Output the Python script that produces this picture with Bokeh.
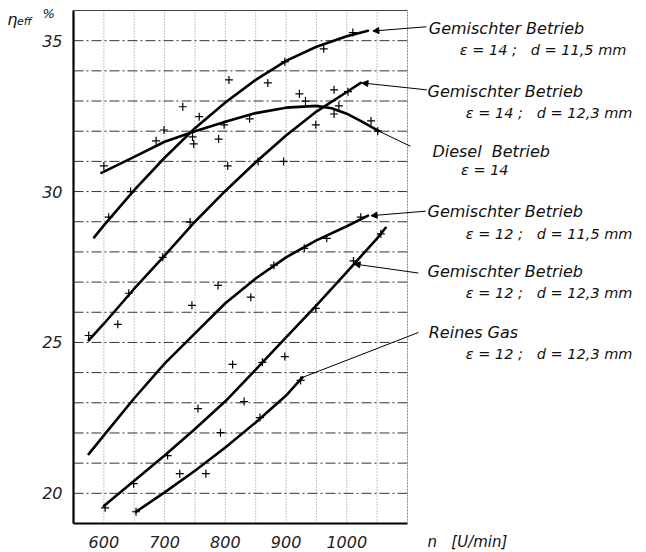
from bokeh.plotting import figure
from bokeh.models import Range1d, Arrow, NormalHead
from bokeh.core.properties import value
from bokeh.embed import file_html
from bokeh.resources import INLINE

# ---- data ----
# Gemischter Betrieb, eps=14, d=11,5 mm
g14_115_n = [584, 600, 650, 700, 750, 800, 850, 900, 950, 1000, 1035]
g14_115_eta = [28.48, 28.88, 30.05, 31.12, 32.1, 32.95, 33.7, 34.33, 34.8, 35.15, 35.33]
# Gemischter Betrieb, eps=14, d=12,3 mm
g14_123_n = [575, 600, 650, 700, 750, 800, 850, 900, 950, 1000, 1023]
g14_123_eta = [25.07, 25.62, 26.78, 27.88, 29.0, 30.02, 30.97, 31.86, 32.65, 33.3, 33.6]
# Diesel Betrieb, eps=14
diesel_n = [596, 650, 700, 750, 800, 850, 900, 950, 975, 1000, 1025, 1053]
diesel_eta = [30.62, 31.15, 31.65, 32.0, 32.31, 32.6, 32.78, 32.84, 32.76, 32.58, 32.32, 32.0]
# Gemischter Betrieb, eps=12, d=11,5 mm
g12_115_n = [575, 600, 650, 700, 750, 800, 850, 900, 950, 1000, 1035]
g12_115_eta = [21.3, 21.92, 23.15, 24.3, 25.3, 26.3, 27.12, 27.82, 28.38, 28.85, 29.2]
# Gemischter Betrieb, eps=12, d=12,3 mm
g12_123_n = [600, 650, 700, 750, 800, 850, 900, 950, 1000, 1050, 1064]
g12_123_eta = [19.58, 20.42, 21.25, 22.13, 23.05, 24.1, 25.17, 26.23, 27.33, 28.45, 28.8]
# Reines Gas, eps=12, d=12,3 mm
gas_n = [653, 700, 750, 800, 850, 900, 927]
gas_eta = [19.39, 20.03, 20.75, 21.52, 22.35, 23.24, 23.84]

# measured points (+)
pts_n = [600, 608, 644, 686, 699, 730, 746, 748, 757, 742, 697, 789, 798, 804, 806,
         840, 854, 870, 896, 898, 922, 932, 949, 962, 967, 930, 880, 1010, 979, 1002,
         987, 979, 1040, 1051, 1023, 1011, 1056, 575, 641, 623, 745, 788, 842, 812,
         861, 898, 831, 755, 792, 705, 725, 768, 649, 602, 653, 857, 924, 949]
pts_eta = [30.85, 29.15, 30.0, 31.68, 32.04, 32.81, 31.81, 31.58, 32.48, 28.99, 27.82,
           31.74, 32.21, 30.85, 33.7, 32.41, 31.0, 33.6, 31.0, 34.3, 33.24, 33.0, 32.21,
           34.73, 28.45, 28.12, 27.56, 35.27, 33.37, 33.31, 32.84, 32.57, 32.34, 32.0,
           29.15, 27.7, 28.6, 25.23, 26.63, 25.6, 26.23, 26.89, 26.5, 24.27, 24.34,
           24.53, 23.04, 22.81, 22.01, 21.25, 20.65, 20.65, 20.32, 19.52, 19.39, 22.51,
           23.74, 26.13]

x_ticks = [600, 700, 800, 900, 1000]
y_ticks = [20, 25, 30, 35]
x_grid = [600, 650, 700, 750, 800, 850, 900, 950, 1000, 1050]
y_grid = list(range(20, 36))

NB = "\u00a0"
label_line1 = ["Gemischter Betrieb", "Gemischter Betrieb", "Diesel" + NB + " Betrieb",
               "Gemischter Betrieb", "Gemischter Betrieb", "Reines Gas"]
label_line2 = ["ε = 14 ;" + NB + NB + " d = 11,5 mm", "ε = 14 ;" + NB + NB + " d = 12,3 mm", "ε = 14",
               "ε = 12 ;" + NB + NB + " d = 11,5 mm", "ε = 12 ;" + NB + NB + " d = 12,3 mm",
               "ε = 12 ;" + NB + NB + " d = 12,3 mm"]
x_title = "n" + NB + NB + " [U/min]"

# ---- layout ----
X0, X1, Y0, Y1 = 550, 1100, 19, 36          # plotting area in data units
W, H = 646, 552
LEFT, RIGHT, TOP, BOTTOM = 73, 407, 10, 523  # plotting area in pixels
sx = (RIGHT - LEFT) / (X1 - X0)
sy = (BOTTOM - TOP) / (Y1 - Y0)
XLAB_DY = 18.5                               # pixels below the frame for x labels

l1_pos = [(1135, 35.42), (1133, 33.32), (1141, 31.32), (1133, 29.33), (1133, 27.34), (1135, 25.34)]
l2_pos = [(1186, 34.70), (1196, 32.60), (1188, 30.71), (1196, 28.59), (1196, 26.64), (1196, 24.62)]
leaders = [  # (x_start, y_start, x_end, y_end, head)
    (1131, 35.46, 1043, 35.32, True),
    (1132, 33.37, 1025, 33.60, True),
    (1105, 31.50, 1053, 32.00, False),
    (1130, 29.35, 1040, 29.20, True),
    (1118, 27.30, 1012, 27.60, True),
    (1118, 25.33, 927, 23.84, False),
]

FONT = "DejaVu Sans"
INK = "#111111"

p = figure(width=W, height=H, output_backend="svg", toolbar_location=None,
           x_range=Range1d(X0 - LEFT / sx, X1 + (W - RIGHT) / sx),
           y_range=Range1d(Y0 - (H - BOTTOM) / sy, Y1 + TOP / sy),
           x_axis_type=None, y_axis_type=None, min_border=0,
           background_fill_color="white", border_fill_color="white")
p.outline_line_color = None
p.xgrid.visible = False
p.ygrid.visible = False

# grid
p.segment(x0=x_grid, y0=[Y0] * len(x_grid), x1=x_grid, y1=[Y1] * len(x_grid),
          line_color="#8a8a8a", line_dash="1 2", line_width=1)
p.segment(x0=[X0] * len(y_grid), y0=y_grid, x1=[X1] * len(y_grid), y1=y_grid,
          line_color="#333333", line_dash="10 3 2 3", line_width=1)

# frame
p.segment(x0=[X0, X0], y0=[Y0, Y0], x1=[X0, X1], y1=[Y1, Y0], line_color="black", line_width=2.2)
p.segment(x0=[X0], y0=[Y1], x1=[X1], y1=[Y1], line_color="#444444", line_width=1.2)
p.segment(x0=[X1], y0=[Y0], x1=[X1], y1=[Y1], line_color="#888888", line_width=1, line_dash="2 1")

# tick labels
p.text(x=x_ticks, y=[Y0 - XLAB_DY / sy] * len(x_ticks), text=[str(t) for t in x_ticks],
       text_font=value(FONT), text_font_style="italic", text_font_size="16px",
       text_align="center", text_baseline="middle", text_color="#222222")
p.text(x=[X0 - 11 / sx] * len(y_ticks), y=y_ticks, text=[str(t) for t in y_ticks],
       text_font=value(FONT), text_font_style="italic", text_font_size="16px",
       text_align="right", text_baseline="middle", text_color="#222222")

# curves
for xs, ys in [(g14_115_n, g14_115_eta), (g14_123_n, g14_123_eta), (diesel_n, diesel_eta),
               (g12_115_n, g12_115_eta), (g12_123_n, g12_123_eta), (gas_n, gas_eta)]:
    p.line(xs, ys, line_color="black", line_width=2.6, line_join="round", line_cap="round")

# measured points
p.scatter(pts_n, pts_eta, marker="cross", size=8, line_color="black", line_width=1.2)

# leader lines
for xs, ys, xe, ye, head in leaders:
    p.add_layout(Arrow(x_start=xs, y_start=ys, x_end=xe, y_end=ye, line_width=1,
                       line_color="black",
                       end=NormalHead(size=6, fill_color="black", line_color="black") if head else None))

# curve labels
p.text(x=[q[0] for q in l1_pos], y=[q[1] for q in l1_pos], text=label_line1,
       text_font=value(FONT), text_font_style="italic", text_font_size="16px",
       text_align="left", text_baseline="middle", text_color=INK)
p.text(x=[q[0] for q in l2_pos], y=[q[1] for q in l2_pos], text=label_line2,
       text_font=value(FONT), text_font_style="italic", text_font_size="14.5px",
       text_align="left", text_baseline="middle", text_color=INK)

# axis titles
p.text(x=[441, 457], y=[35.70, 35.62], text=["η", "eff"],
       text_font=value(FONT), text_font_style="italic", text_font_size=["16px", "11px"],
       text_align="left", text_baseline="middle", text_color=INK)
p.text(x=[499], y=[35.9], text=["%"],
       text_font=value(FONT), text_font_style="italic", text_font_size="13px",
       text_align="left", text_baseline="middle", text_color=INK)
p.text(x=[1133], y=[Y0 - XLAB_DY / sy], text=[x_title],
       text_font=value(FONT), text_font_style="italic", text_font_size="15px",
       text_align="left", text_baseline="middle", text_color=INK)

open("out.html", "w").write(file_html(p, INLINE))
